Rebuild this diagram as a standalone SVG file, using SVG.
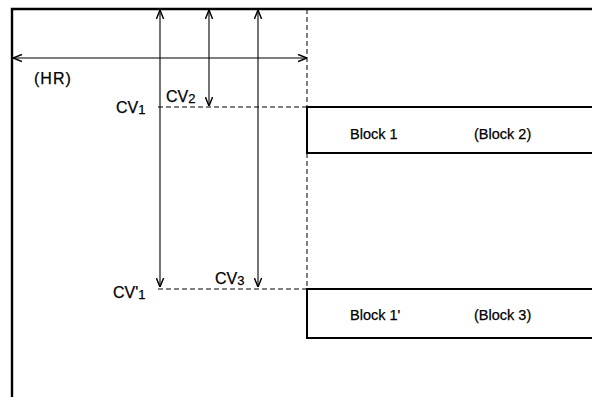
<svg xmlns="http://www.w3.org/2000/svg" width="592" height="397" viewBox="0 0 592 397">
<style>
.frame{fill:none;stroke:#000;stroke-width:2.4}
.box{fill:none;stroke:#000;stroke-width:2}
.arr{fill:none;stroke:#000;stroke-width:1.1}
.dash{fill:none;stroke:#000;stroke-width:1;stroke-dasharray:5,3}
text{font-family:"Liberation Sans",Arial,sans-serif;font-size:14.5px;fill:#000;stroke:#000;stroke-width:0.25}
.cv{font-size:16px}
.sub{font-size:13px}
</style>
<defs>
<marker id="ah" viewBox="0 0 10 10" refX="10" refY="5" markerWidth="9" markerHeight="9" markerUnits="userSpaceOnUse" orient="auto-start-reverse">
<path d="M0,1 L10,5 L0,9" fill="none" stroke="#000" stroke-width="1.6"/>
</marker>
</defs>
<rect width="592" height="397" fill="#fff"/>
<g id="frame">
<path class="frame" d="M12,397 V9 H592"/>
</g>
<g id="block1">
<path class="box" d="M592,107 H307 V153 H592"/>
<text x="350" y="139">Block 1</text>
<text x="474" y="139">(Block 2)</text>
</g>
<g id="block1p">
<path class="box" d="M592,289 H307 V338 H592"/>
<text x="350" y="320">Block 1'</text>
<text x="474" y="320">(Block 3)</text>
</g>
<g id="labels">
<text class="cv" x="34" y="84" letter-spacing="1">(HR)</text>
<text class="cv" x="116" y="113">CV<tspan class="sub" dy="0.5">1</tspan></text>
<text class="cv" x="166" y="102">CV<tspan class="sub" dy="0.5">2</tspan></text>
<text class="cv" x="113" y="298">CV'<tspan class="sub" dy="0.5">1</tspan></text>
<text class="cv" x="215" y="284">CV<tspan class="sub" dy="0.5">3</tspan></text>
</g>
<g id="connectors">
<line class="dash" x1="307" y1="9" x2="307" y2="290"/>
<line class="dash" x1="158" y1="107" x2="307" y2="107"/>
<line class="dash" x1="158" y1="289" x2="307" y2="289"/>
<line class="arr" x1="13" y1="58" x2="307" y2="58" marker-start="url(#ah)" marker-end="url(#ah)"/>
<line class="arr" x1="160" y1="10" x2="160" y2="287" marker-start="url(#ah)" marker-end="url(#ah)"/>
<line class="arr" x1="209" y1="10" x2="209" y2="106" marker-start="url(#ah)" marker-end="url(#ah)"/>
<line class="arr" x1="258" y1="10" x2="258" y2="287" marker-start="url(#ah)" marker-end="url(#ah)"/>
</g>
</svg>
